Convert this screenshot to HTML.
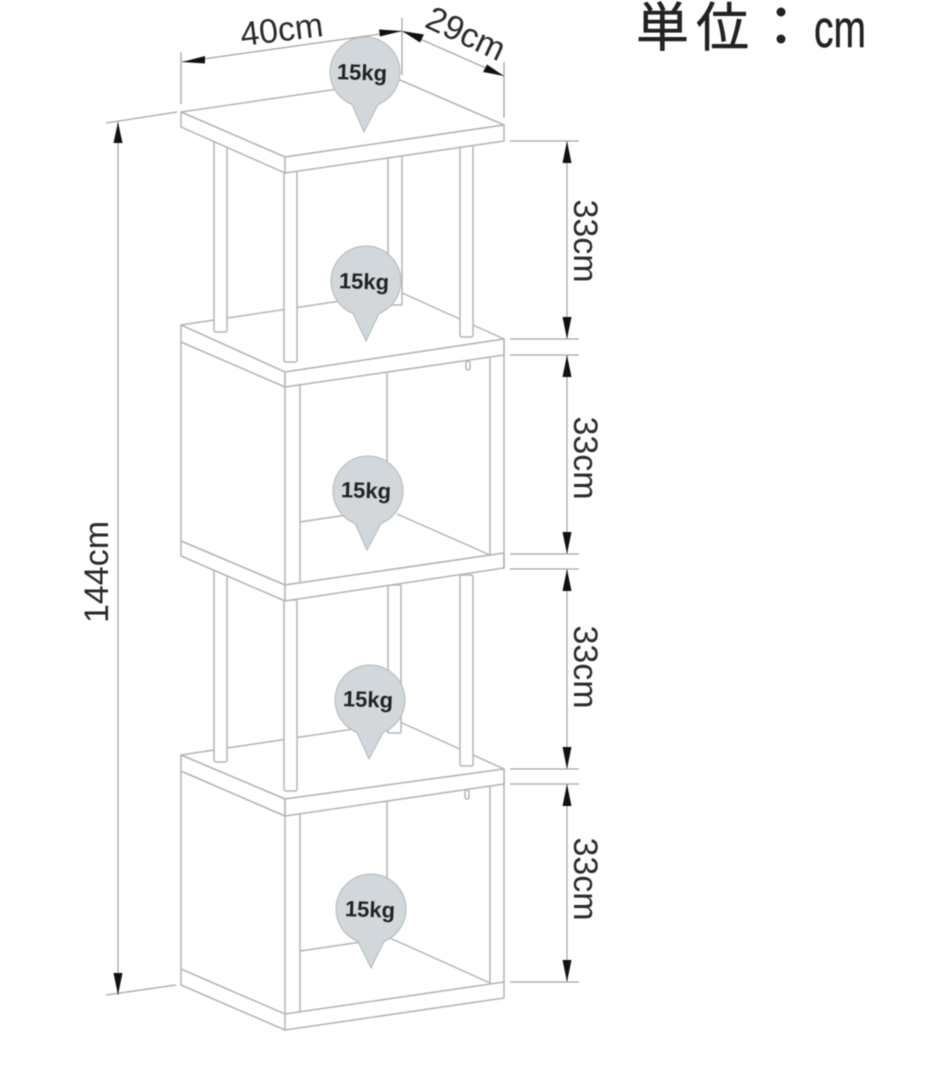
<!DOCTYPE html>
<html><head><meta charset="utf-8"><style>
html,body{margin:0;padding:0;background:#fff;width:936px;height:1080px;overflow:hidden}
svg{display:block;filter:blur(.5px)}
.l{stroke:#b4b4b4;stroke-width:1.5;fill:#fff;stroke-linejoin:round}
.n{stroke:#b4b4b4;stroke-width:1.5;fill:none}
.d{stroke:#a6a6a6;stroke-width:1.3;fill:none}
.t{font-family:"Liberation Sans",sans-serif;font-size:34px;fill:#2b2b2b;text-anchor:middle}
.k{font-family:"Liberation Sans",sans-serif;font-size:22px;font-weight:bold;fill:#222;text-anchor:middle}
.p{fill:#d1d7da;stroke:#b2b8ba;stroke-width:1}
.h{font-family:"Liberation Sans","Noto Sans CJK JP",sans-serif;font-size:53px;fill:#222;stroke:#222;stroke-width:.5}
</style></head><body>
<svg width="936" height="1080" viewBox="0 0 936 1080" xmlns="http://www.w3.org/2000/svg">

<!-- BOTTOM CUBE -->
<path class="n" d="M387 801V930"/>
<path class="n" d="M300 951L375 940M390 938L490 983"/>
<path class="l" d="M181 771V985L285 1030V816Z"/>
<path class="n" d="M181 969L285 1014L504 982"/>
<path class="l" style="fill:none" d="M285 1030L504 998V769"/>
<path class="n" d="M300 814V1012M490 785V984"/>
<path class="l" d="M181 755L400 722L504 769L285 799Z"/>
<path class="l" d="M181 755V771L285 816V799Z"/>
<path class="l" d="M285 799L504 769V784L285 816Z"/>
<rect class="n" x="465" y="790" width="4" height="9" rx="2"/>

<!-- MIDDLE LEGS -->
<rect class="l" x="388" y="585" width="13" height="148" rx="1"/>
<rect class="l" x="214" y="560" width="13" height="202" rx="2"/>
<rect class="l" x="460" y="575" width="13" height="191" rx="2"/>
<rect class="l" x="284" y="600" width="13" height="191" rx="2"/>

<!-- UPPER CUBE -->
<path class="l" style="stroke:none" d="M181 342V556L285 601L504 568V355L300 330Z"/>
<path class="n" d="M387 373V500"/>
<path class="n" d="M300 522L360 513M397 514L490 555"/>
<path class="n" d="M181 342V541M285 387V585"/>
<path class="n" d="M181 541L285 585L504 553"/>
<path class="l" d="M181 541V556L285 601V585Z"/>
<path class="l" d="M285 585L504 553V568L285 601Z"/>
<path class="n" d="M504 339V568"/>
<path class="n" d="M300 385V583M490 358V555"/>

<path class="l" d="M181 325L400 292L504 339L285 372Z"/>
<path class="l" d="M181 325V342L285 387V372Z"/>
<path class="l" d="M285 372L504 339V355L285 387Z"/>
<rect class="n" x="466" y="361" width="4" height="9" rx="2"/>

<!-- TOP LEGS -->
<rect class="l" x="388" y="150" width="14" height="155" rx="1"/>
<rect class="l" x="214" y="135" width="13" height="197" rx="2"/>
<rect class="l" x="460" y="140" width="13" height="197" rx="2"/>
<rect class="l" x="284" y="165" width="13" height="197" rx="2"/>

<!-- TOP SHELF -->
<path class="l" d="M181 112L400 80L504 125L285 157Z"/>
<path class="l" d="M181 112V127L285 173V157Z"/>
<path class="l" d="M285 157L504 125V141L285 173Z"/>

<!-- DIMENSIONS -->
<path class="d" d="M181 52V104M402 18V75M504 62V118"/>
<path class="d" d="M182 62L402 31L504 76"/>
<path class="d" d="M106 123L177 112M106 995L176 985M118 122V995"/>
<path class="d" d="M510 141H579M510 339H579M510 355H579M510 554H579M510 569H579M510 769H579M510 784H579M510 982H579"/>
<path class="d" d="M567 141V339M567 355V554M567 569V769M567 784V982"/>

<g fill="#111">
<path d="M182 62L205 56L205 63.500Z"/>
<path d="M402 31L379 29.500L380 36.500Z"/>
<path d="M402 31L424 34.500L420 42.500Z"/>
<path d="M504 76L487 64.500L483 72Z"/>
<path d="M118 122L113.500 143H122.500Z"/>
<path d="M118 995L113.500 973H122.500Z"/>
<path d="M567 141L562.500 163H571.500Z"/><path d="M567 339L562.500 317H571.500Z"/>
<path d="M567 355L562.500 377H571.500Z"/><path d="M567 554L562.500 532H571.500Z"/>
<path d="M567 569L562.500 591H571.500Z"/><path d="M567 769L562.500 747H571.500Z"/>
<path d="M567 784L562.500 806H571.500Z"/><path d="M567 982L562.500 960H571.500Z"/>
</g>

<text class="t" transform="translate(283 41) rotate(-7)">40cm</text>
<text class="t" transform="translate(461 44) rotate(25)">29cm</text>
<text class="t" transform="translate(574 241) rotate(90)">33cm</text>
<text class="t" transform="translate(574 458) rotate(90)">33cm</text>
<text class="t" transform="translate(574 667) rotate(90)">33cm</text>
<text class="t" transform="translate(574 879) rotate(90)">33cm</text>
<text class="t" transform="translate(108 572) rotate(-90)">144cm</text>

<!-- PINS -->
<g>
<path class="p" d="M352 104.500A35 35 0 1 1 378 104.500L364 132Z"/>
<text class="k" x="362" y="80" transform="rotate(2 362 73)">15kg</text>
<path class="p" d="M353 313.500A35 35 0 1 1 379 313.500L366 341Z"/>
<text class="k" x="364" y="289" transform="rotate(2 364 282)">15kg</text>
<path class="p" d="M355 523.500A35 35 0 1 1 381 523.500L367 550Z"/>
<text class="k" x="366" y="498" transform="rotate(2 366 491)">15kg</text>
<path class="p" d="M357 732.500A35 35 0 1 1 383 732.500L369 759Z"/>
<text class="k" x="368" y="707" transform="rotate(2 368 700)">15kg</text>
<path class="p" d="M358 941.500A35 35 0 1 1 384 941.500L371 968Z"/>
<text class="k" x="370" y="917" transform="rotate(2 370 910)">15kg</text>
</g>

<!-- TITLE -->
<text class="h" x="636" y="46">単</text>
<text class="h" x="696" y="46">位</text>
<circle cx="781" cy="12" r="4.500" fill="#222"/>
<circle cx="781" cy="39" r="4.500" fill="#222"/>
<text class="h" x="814" y="47" textLength="52" lengthAdjust="spacingAndGlyphs">cm</text>
</svg>
</body></html>
